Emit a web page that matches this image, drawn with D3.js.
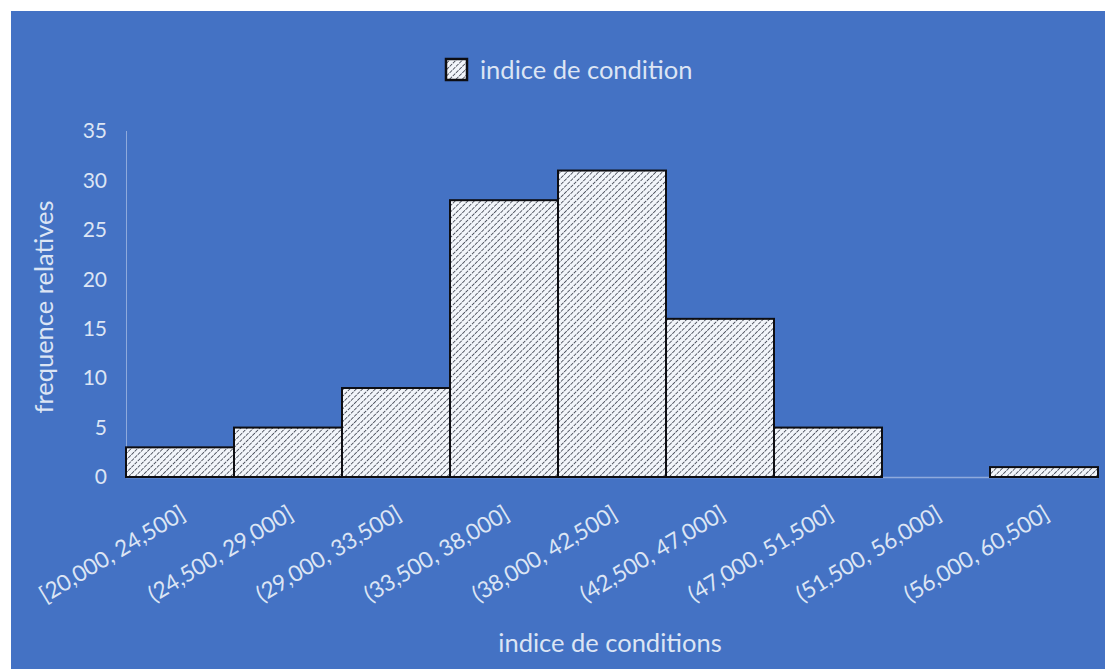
<!DOCTYPE html>
<html><head><meta charset="utf-8">
<script src="https://cdn.jsdelivr.net/npm/d3@7"></script>
<style>body{margin:0;background:#fff;}svg{display:block;}</style>
</head><body>
<script>
const categories = ["[20,000, 24,500]","(24,500, 29,000]","(29,000, 33,500]","(33,500, 38,000]","(38,000, 42,500]","(42,500, 47,000]","(47,000, 51,500]","(51,500, 56,000]","(56,000, 60,500]"];
const values = [3,5,9,28,31,16,5,0,1];
const yTicks = [0,5,10,15,20,25,30,35];
const seriesName = "indice de condition";
const xTitle = "indice de conditions";
const yTitle = "frequence relatives";

const W = 1105, H = 669;
const font = "Lato, 'Open Sans', sans-serif";
const txt = "#dce5f4";
const svg = d3.select("body").append("svg").attr("width", W).attr("height", H);
svg.append("rect").attr("x",11).attr("y",11).attr("width",W-11).attr("height",H-11).attr("fill","#4472C4");

const defs = svg.append("defs");
const pat = defs.append("pattern").attr("id","hatch").attr("patternUnits","userSpaceOnUse")
  .attr("width",4.5).attr("height",4.5).attr("patternTransform","rotate(45)");
pat.append("rect").attr("width",4.5).attr("height",4.5).attr("fill","#f2f5fa");
pat.append("line").attr("x1",0).attr("y1",0).attr("x2",0).attr("y2",4.5)
  .attr("stroke","#454a56").attr("stroke-width",1.7).attr("stroke-dasharray","3.5,1");

const x = d3.scaleBand().domain(categories).range([126,1098]).padding(0);
const y = d3.scaleLinear().domain([0,35]).range([477,131]);

// axes lines
svg.append("line").attr("x1",126.5).attr("x2",126.5).attr("y1",y(35)).attr("y2",y(0)).attr("stroke","#8faadc").attr("stroke-width",1);
svg.append("line").attr("x1",126).attr("x2",1098).attr("y1",y(0)+0.5).attr("y2",y(0)+0.5).attr("stroke","#8faadc").attr("stroke-width",1.5);

// y tick labels
svg.append("g").selectAll("text").data(yTicks).join("text")
  .attr("x",107).attr("y",d=>y(d)).attr("dy","0.35em").attr("text-anchor","end")
  .attr("fill",txt).attr("font-family",font).attr("font-size",21).text(d=>d);

// bars
const barData = categories.map((c,i)=>({c, v: values[i]})).filter(d=>d.v>0);
svg.append("g").selectAll("rect").data(barData).join("rect")
  .attr("x",d=>x(d.c)).attr("width",x.bandwidth()).attr("y",d=>y(d.v)).attr("height",d=>y(0)-y(d.v))
  .attr("fill","url(#hatch)").attr("stroke","#0d0d12").attr("stroke-width",2);

// x tick labels
svg.append("g").selectAll("text").data(categories).join("text")
  .attr("transform",d=>`translate(${x(d)+x.bandwidth()/2+7},${y(0)+41}) rotate(-31)`)
  .attr("text-anchor","end")
  .attr("fill",txt).attr("font-family",font).attr("font-size",22.5).text(d=>d);

// titles
svg.append("text").attr("x",610).attr("y",652).attr("text-anchor","middle")
  .attr("fill",txt).attr("font-family",font).attr("font-size",25.5).text(xTitle);
svg.append("text").attr("transform","translate(53,307) rotate(-90)").attr("text-anchor","middle")
  .attr("fill",txt).attr("font-family",font).attr("font-size",25.5).text(yTitle);

// legend
svg.append("rect").attr("x",446).attr("y",59).attr("width",21).attr("height",21)
  .attr("fill","url(#hatch)").attr("stroke","#0d0d12").attr("stroke-width",2.5);
svg.append("text").attr("x",480).attr("y",70).attr("dy","0.35em")
  .attr("fill",txt).attr("font-family",font).attr("font-size",25.5).text(seriesName);
</script>
</body></html>
